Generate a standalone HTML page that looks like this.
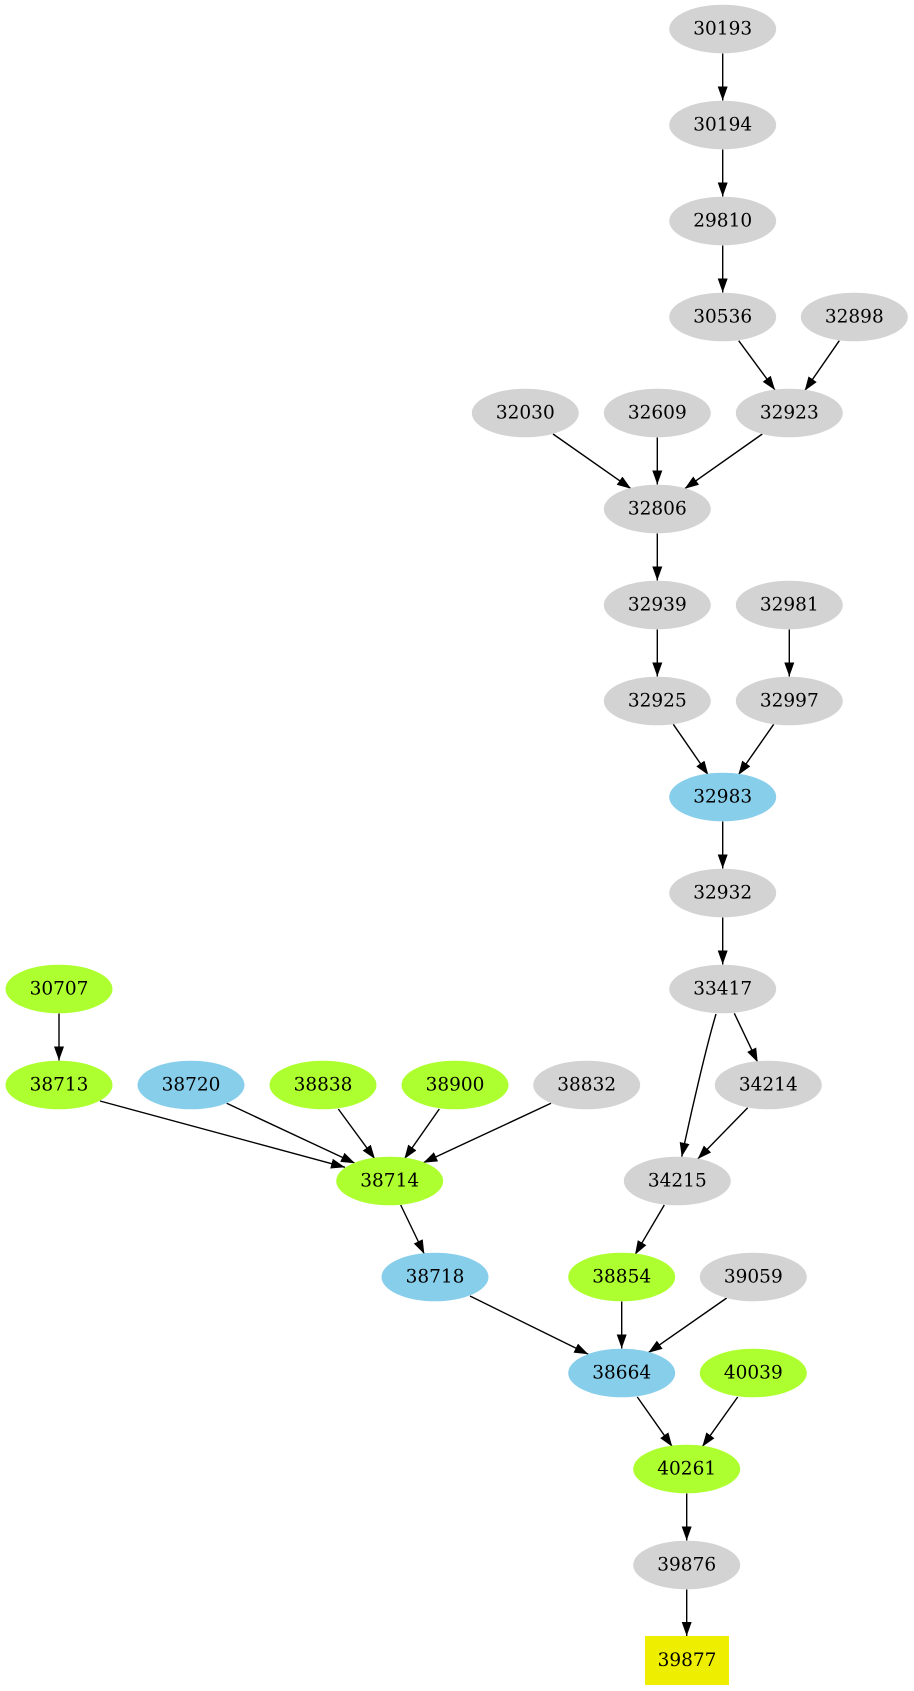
<!DOCTYPE html>
<html><head><meta charset="utf-8"><style>
html,body{margin:0;padding:0;background:#fff;}
svg{display:block;}
text{font-family:"DejaVu Serif","Liberation Serif",serif;font-size:18.5px;fill:#000;text-anchor:middle;}
.e{stroke:#000;stroke-width:1.4;fill:none;}
</style></head><body>
<svg width="914" height="1691" viewBox="0 0 914 1691" xmlns="http://www.w3.org/2000/svg">
<defs>
<marker id="a" markerUnits="userSpaceOnUse" markerWidth="15" markerHeight="11" refX="14" refY="5" orient="auto">
<path d="M0,0 L14,5 L0,10 z" fill="#000"/>
</marker>
</defs>
<g class="edges">
<path class="e" marker-end="url(#a)" d="M722.7,53.5 L722.7,100.5"/>
<path class="e" marker-end="url(#a)" d="M722.7,149.5 L722.7,196.5"/>
<path class="e" marker-end="url(#a)" d="M722.7,245.5 L722.7,292.5"/>
<path class="e" marker-end="url(#a)" d="M738.7,340.7 L775,390"/>
<path class="e" marker-end="url(#a)" d="M839.3,340.7 L804.7,390.7"/>
<path class="e" marker-end="url(#a)" d="M553,434 L631,488.7"/>
<path class="e" marker-end="url(#a)" d="M657.3,437.5 L657.3,484.5"/>
<path class="e" marker-end="url(#a)" d="M762.3,434 L684.7,488.7"/>
<path class="e" marker-end="url(#a)" d="M657.3,533.5 L657.3,580.5"/>
<path class="e" marker-end="url(#a)" d="M657.3,629.5 L657.3,676.5"/>
<path class="e" marker-end="url(#a)" d="M789.3,629.5 L789.3,676.5"/>
<path class="e" marker-end="url(#a)" d="M673.3,724.3 L708.3,775"/>
<path class="e" marker-end="url(#a)" d="M773.7,724.3 L738.3,775"/>
<path class="e" marker-end="url(#a)" d="M722.7,821.5 L722.7,868.5"/>
<path class="e" marker-end="url(#a)" d="M722.7,917.5 L722.7,964.5"/>
<path class="e" marker-end="url(#a)" d="M734.3,1013.3 L757.7,1062.3"/>
<path class="e" marker-end="url(#a)" d="M716,1014 C707,1044 692,1108 681.7,1156.7"/>
<path class="e" marker-end="url(#a)" d="M747.7,1107.7 L697.7,1159"/>
<path class="e" marker-end="url(#a)" d="M59,1013.5 L59,1060.5"/>
<path class="e" marker-end="url(#a)" d="M100,1101 L345,1167.3"/>
<path class="e" marker-end="url(#a)" d="M226.7,1103.3 L355,1163.3"/>
<path class="e" marker-end="url(#a)" d="M338.3,1109 L375,1159"/>
<path class="e" marker-end="url(#a)" d="M439.3,1109 L404.3,1159"/>
<path class="e" marker-end="url(#a)" d="M551,1103.3 L423.3,1162.7"/>
<path class="e" marker-end="url(#a)" d="M400.7,1205 L424.3,1254"/>
<path class="e" marker-end="url(#a)" d="M664.3,1205 L635,1254.7"/>
<path class="e" marker-end="url(#a)" d="M470,1296 L588.3,1354.3"/>
<path class="e" marker-end="url(#a)" d="M621.7,1301.5 L621.7,1348.5"/>
<path class="e" marker-end="url(#a)" d="M726.7,1298 L648.3,1352.7"/>
<path class="e" marker-end="url(#a)" d="M637.3,1397 L672.3,1446.7"/>
<path class="e" marker-end="url(#a)" d="M737.7,1397 L702.3,1446.7"/>
<path class="e" marker-end="url(#a)" d="M686.7,1493.5 L686.7,1540.5"/>
<path class="e" marker-end="url(#a)" d="M686.7,1589.5 L686.7,1636"/>
</g>
<g class="nodes">
<ellipse cx="722.7" cy="29" rx="53.5" ry="24.3" fill="#d3d3d3"/><text x="722.7" y="34.7">30193</text>
<ellipse cx="722.7" cy="125" rx="53.5" ry="24.3" fill="#d3d3d3"/><text x="722.7" y="130.7">30194</text>
<ellipse cx="722.7" cy="221" rx="53.5" ry="24.3" fill="#d3d3d3"/><text x="722.7" y="226.7">29810</text>
<ellipse cx="722.7" cy="317" rx="53.5" ry="24.3" fill="#d3d3d3"/><text x="722.7" y="322.7">30536</text>
<ellipse cx="854.3" cy="317" rx="53.5" ry="24.3" fill="#d3d3d3"/><text x="854.3" y="322.7">32898</text>
<ellipse cx="525.3" cy="413" rx="53.5" ry="24.3" fill="#d3d3d3"/><text x="525.3" y="418.7">32030</text>
<ellipse cx="657.3" cy="413" rx="53.5" ry="24.3" fill="#d3d3d3"/><text x="657.3" y="418.7">32609</text>
<ellipse cx="789.3" cy="413" rx="53.5" ry="24.3" fill="#d3d3d3"/><text x="789.3" y="418.7">32923</text>
<ellipse cx="657.3" cy="509" rx="53.5" ry="24.3" fill="#d3d3d3"/><text x="657.3" y="514.7">32806</text>
<ellipse cx="657.3" cy="605" rx="53.5" ry="24.3" fill="#d3d3d3"/><text x="657.3" y="610.7">32939</text>
<ellipse cx="789.3" cy="605" rx="53.5" ry="24.3" fill="#d3d3d3"/><text x="789.3" y="610.7">32981</text>
<ellipse cx="657.3" cy="701" rx="53.5" ry="24.3" fill="#d3d3d3"/><text x="657.3" y="706.7">32925</text>
<ellipse cx="789.3" cy="701" rx="53.5" ry="24.3" fill="#d3d3d3"/><text x="789.3" y="706.7">32997</text>
<ellipse cx="722.7" cy="797" rx="53.5" ry="24.3" fill="#87ceeb"/><text x="722.7" y="802.7">32983</text>
<ellipse cx="722.7" cy="893" rx="53.5" ry="24.3" fill="#d3d3d3"/><text x="722.7" y="898.7">32932</text>
<ellipse cx="722.7" cy="989" rx="53.5" ry="24.3" fill="#d3d3d3"/><text x="722.7" y="994.7">33417</text>
<ellipse cx="59" cy="989" rx="53.5" ry="24.3" fill="#adff2f"/><text x="59" y="994.7">30707</text>
<ellipse cx="59" cy="1085" rx="53.5" ry="24.3" fill="#adff2f"/><text x="59" y="1090.7">38713</text>
<ellipse cx="191" cy="1085" rx="53.5" ry="24.3" fill="#87ceeb"/><text x="191" y="1090.7">38720</text>
<ellipse cx="323" cy="1085" rx="53.5" ry="24.3" fill="#adff2f"/><text x="323" y="1090.7">38838</text>
<ellipse cx="455" cy="1085" rx="53.5" ry="24.3" fill="#adff2f"/><text x="455" y="1090.7">38900</text>
<ellipse cx="586.7" cy="1085" rx="53.5" ry="24.3" fill="#d3d3d3"/><text x="586.7" y="1090.7">38832</text>
<ellipse cx="768.3" cy="1085" rx="53.5" ry="24.3" fill="#d3d3d3"/><text x="768.3" y="1090.7">34214</text>
<ellipse cx="389.7" cy="1181" rx="53.5" ry="24.3" fill="#adff2f"/><text x="389.7" y="1186.7">38714</text>
<ellipse cx="677.3" cy="1181" rx="53.5" ry="24.3" fill="#d3d3d3"/><text x="677.3" y="1186.7">34215</text>
<ellipse cx="435" cy="1277" rx="53.5" ry="24.3" fill="#87ceeb"/><text x="435" y="1282.7">38718</text>
<ellipse cx="621.7" cy="1277" rx="53.5" ry="24.3" fill="#adff2f"/><text x="621.7" y="1282.7">38854</text>
<ellipse cx="753.3" cy="1277" rx="53.5" ry="24.3" fill="#d3d3d3"/><text x="753.3" y="1282.7">39059</text>
<ellipse cx="621.7" cy="1373" rx="53.5" ry="24.3" fill="#87ceeb"/><text x="621.7" y="1378.7">38664</text>
<ellipse cx="753.3" cy="1373" rx="53.5" ry="24.3" fill="#adff2f"/><text x="753.3" y="1378.7">40039</text>
<ellipse cx="686.7" cy="1469" rx="53.5" ry="24.3" fill="#adff2f"/><text x="686.7" y="1474.7">40261</text>
<ellipse cx="686.7" cy="1565" rx="53.5" ry="24.3" fill="#d3d3d3"/><text x="686.7" y="1570.7">39876</text>
<rect x="645" y="1636" width="84" height="49" fill="#eeee00"/><text x="687" y="1666.2">39877</text>
</g>
</svg>
</body></html>
